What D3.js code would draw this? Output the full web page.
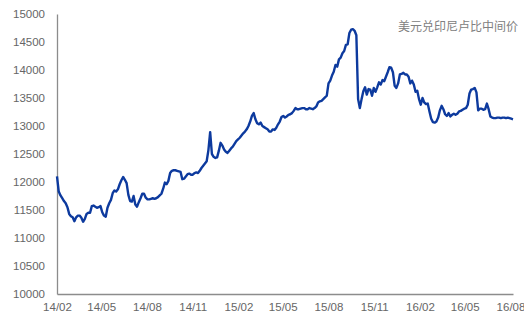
<!DOCTYPE html>
<html><head><meta charset="utf-8">
<script src="https://cdn.jsdelivr.net/npm/d3@7/dist/d3.min.js"></script>
<style>body{margin:0;background:#fff}svg{display:block}</style>
</head><body>
<script>
// Twice-weekly USD/IDR central parity (estimated from chart), one value every 3.5 days from startDate
const startDate = "2014-02-01";
const stepHours = 84;
const values = [
12100,11830, 11760,11710, 11660,11620, 11550,11430, 11390,11370,
11300,11370, 11400,11400, 11360,11290, 11340,11430, 11450,11450,
11570,11580, 11560,11540, 11550,11570, 11460,11400, 11380,11540,
11620,11680, 11800,11850, 11830,11870, 11960,12030, 12090,12040,
11980,11770, 11660,11650, 11750,11600, 11560,11640, 11710,11790,
11790,11720, 11690,11690, 11700,11710, 11700,11710, 11730,11760,
11790,11880, 11990,11960, 12020,12160, 12200,12210, 12210,12200,
12190,12180, 12050,12060, 12100,12140, 12150,12130, 12130,12160,
12170,12160, 12200,12250, 12290,12330, 12370,12570, 12890,12500,
12450,12430, 12440,12560, 12700,12650, 12580,12540, 12520,12560,
12600,12630, 12680,12730, 12760,12790, 12830,12870, 12900,12940,
13000,13080, 13180,13230, 13120,13050, 13030,13060, 13000,12980,
12960,12940, 12900,12900, 12940,12930, 12970,13030, 13080,13160,
13180,13150, 13170,13200, 13210,13230, 13270,13320, 13300,13300,
13310,13320, 13320,13300, 13300,13320, 13310,13300, 13320,13350,
13420,13440, 13450,13480, 13510,13540, 13760,13810, 13900,13970,
14090,14060, 14190,14220, 14300,14340, 14450,14460, 14660,14720,
14730,14700, 14620,13480, 13320,13480, 13620,13690, 13560,13660,
13650,13540, 13680,13610, 13690,13780, 13740,13820, 13800,13880,
13960,14050, 14040,13960, 13720,13680, 13760,13920, 13930,13950,
13920,13920, 13880,13760, 13810,13740, 13610,13630, 13480,13380,
13500,13420, 13390,13400, 13260,13130, 13070,13060, 13080,13150,
13280,13360, 13300,13210, 13180,13230, 13170,13200, 13220,13200,
13220,13260, 13270,13290, 13310,13320, 13380,13580, 13650,13660,
13680,13600, 13280,13310, 13310,13290, 13300,13400, 13300,13170,
13150,13140, 13140,13150, 13150,13140, 13150,13150, 13140,13150,
13140,13130, 13120];
const yTicks = [10000,10500,11000,11500,12000,12500,13000,13500,14000,14500,15000];
const xTickLabels = ["14/02","14/05","14/08","14/11","15/02","15/05","15/08","15/11","16/02","16/05","16/08"];
const title = "美元兑印尼卢比中间价";

const W = 524, H = 320;
const m = {l:57, r:11, t:14, b:26};
const parse = d3.timeParse("%Y-%m-%d");
const t0 = parse(startDate);
const data = values.map((v,i)=>({d:d3.timeHour.offset(t0, stepHours*i), v}));

const svg = d3.select("body").append("svg").attr("width",W).attr("height",H);
const x = d3.scaleTime().domain([t0, data[data.length-1].d]).range([m.l, W-m.r]);
const y = d3.scaleLinear().domain([10000,15000]).range([H-m.b, m.t]);

const fmt = d3.timeFormat("%y/%m");
const tickDates = xTickLabels.map(s=>{const [yy,mm]=s.split("/");return new Date(2000+ +yy, +mm-1, 1);});

const font = "'Liberation Sans', Arial, sans-serif";
const gx = svg.append("g").attr("transform",`translate(0,${H-m.b})`)
  .call(d3.axisBottom(x).tickValues(tickDates).tickFormat(fmt).tickSize(0).tickPadding(9));
gx.select(".domain").attr("stroke","#8c8c8c").attr("stroke-width",1.3);
gx.selectAll("text").attr("fill","#666").style("font-family",font).style("font-size","11.5px");

const gy = svg.append("g").attr("transform",`translate(${m.l},0)`)
  .call(d3.axisLeft(y).tickValues(yTicks).tickFormat(d3.format("d")).tickSize(0).tickPadding(12));
gy.select(".domain").attr("stroke","#8c8c8c").attr("stroke-width",1.3);
gy.selectAll("text").attr("fill","#666").style("font-family",font).style("font-size","11.5px");

svg.append("path").datum(data)
  .attr("fill","none").attr("stroke","#0d3a9e").attr("stroke-width",2.4)
  .attr("stroke-linejoin","round")
  .attr("d", d3.line().x(d=>x(d.d)).y(d=>y(d.v)));

svg.append("text").attr("x",518).attr("y",31).attr("text-anchor","end")
  .attr("fill","#808080").style("font-family","'Noto Sans CJK SC', sans-serif").style("font-size","12px")
  .text(title);
</script>
</body></html>
